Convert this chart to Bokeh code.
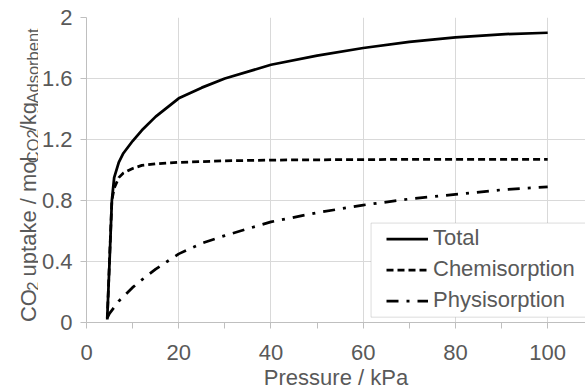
import math
from bokeh.plotting import figure
from bokeh.layouts import row
from bokeh.models import FixedTicker, Legend, LegendItem, BoxAnnotation, Range1d
from bokeh.core.properties import value
from bokeh.embed import file_html
from bokeh.resources import INLINE

# ---------------- data ----------------
pressure = [4.5, 5, 5.5, 6, 7, 8, 10, 12, 15, 20, 25, 30, 40, 50, 60, 70, 80, 90, 100]
total = [0.03, 0.40, 0.80, 0.95, 1.05, 1.11, 1.19, 1.26, 1.35, 1.47, 1.54, 1.60,
         1.69, 1.75, 1.80, 1.84, 1.87, 1.89, 1.90]
chemisorption = [0.02, 0.42, 0.80, 0.88, 0.95, 0.98, 1.01, 1.03, 1.04, 1.05, 1.055, 1.06,
                 1.065, 1.067, 1.068, 1.07, 1.07, 1.07, 1.07]
physisorption = [0.03, 0.06, 0.08, 0.10, 0.14, 0.17, 0.23, 0.28, 0.35, 0.45, 0.52, 0.57,
                 0.66, 0.72, 0.77, 0.81, 0.84, 0.87, 0.89]
series_names = ["Total", "Chemisorption", "Physisorption"]
x_ticks = [0, 20, 40, 60, 80, 100, 120]
x_minor_ticks = [10, 30, 50, 70, 90, 110]
y_ticks = [0, 0.4, 0.8, 1.2, 1.6, 2.0]
y_tick_labels = ["0", "0.4", "0.8", "1.2", "1.6", "2"]
x_label = "Pressure / kPa"
y_label_parts = [("CO", False), ("2", True), (" uptake / mol", False),
                 ("CO2", True), ("/kg", False), ("Adsorbent", True)]

# ---------------- style ----------------
FONT = "Liberation Sans"
TXT = "#595959"
GRID = "#d9d9d9"
AXIS = "#bfbfbf"
MAIN_SIZE = 22
SUB_SIZE = 16.5
H = 392
TOP = 17
BOTTOM = 69
LEFT_W = 38       # width of the y-title strip
P_LEFT = 48       # left border of the main chart (y tick labels)
X_END = 108.2

# ---------------- main chart ----------------
p = figure(width=585 - LEFT_W, height=H, output_backend="svg", toolbar_location=None,
           x_range=Range1d(0, X_END), y_range=Range1d(0, 2),
           min_border_left=P_LEFT, min_border_right=0, min_border_top=TOP,
           min_border_bottom=BOTTOM)
p.outline_line_color = None
p.background_fill_color = "white"

xt = FixedTicker(ticks=x_ticks, minor_ticks=x_minor_ticks)
yt = FixedTicker(ticks=y_ticks)
p.xaxis.ticker = xt
p.yaxis.ticker = yt
p.xgrid.ticker = xt
p.ygrid.ticker = yt
p.xgrid.grid_line_color = GRID
p.ygrid.grid_line_color = GRID

for ax in (p.xaxis, p.yaxis):
    ax.axis_line_color = AXIS
    ax.major_tick_line_color = AXIS
    ax.major_tick_in = 0
    ax.major_tick_out = 6
    ax.major_label_text_font = FONT
    ax.major_label_text_font_size = f"{MAIN_SIZE}px"
    ax.major_label_text_color = TXT
p.xaxis.minor_tick_line_color = AXIS
p.xaxis.minor_tick_in = 0
p.xaxis.minor_tick_out = 6
p.yaxis.minor_tick_line_color = None
p.xaxis.major_label_standoff = 16
p.yaxis.major_label_standoff = 8
p.yaxis.major_label_overrides = dict(zip(y_ticks, y_tick_labels))

p.xaxis.axis_label = x_label
p.xaxis.axis_label_text_font = FONT
p.xaxis.axis_label_text_font_size = f"{MAIN_SIZE}px"
p.xaxis.axis_label_text_font_style = "normal"
p.xaxis.axis_label_text_color = TXT
p.xaxis.axis_label_standoff = 2

r_total = p.line(pressure, total, line_color="black", line_width=2.75, line_join="round")
r_chem = p.line(pressure, chemisorption, line_color="black", line_width=2.75,
                line_dash="7 4", line_join="round")
r_phys = p.line(pressure, physisorption, line_color="black", line_width=2.75,
                line_dash="12 8 3 8", line_join="round")

box = BoxAnnotation(left=61.7, right=150, bottom=0.035, top=0.652,
                    fill_color="white", fill_alpha=1.0,
                    line_color="#8c8c8c", line_width=1)
p.add_layout(box)
legend = Legend(items=[LegendItem(label=n, renderers=[r]) for n, r in
                       zip(series_names, [r_total, r_chem, r_phys])],
                location=(300, 6.5), glyph_width=42, glyph_height=31, spacing=0,
                padding=0, margin=0, label_standoff=5,
                label_text_font=FONT, label_text_font_size=f"{MAIN_SIZE}px",
                label_text_color=TXT, border_line_color=None, background_fill_alpha=0)
p.add_layout(legend)

# ---------------- y-axis title strip (with subscripts) ----------------
# data units = px: x from the left edge, y measured up from the page bottom
q = figure(width=LEFT_W, height=H, output_backend="svg", toolbar_location=None,
           x_range=Range1d(0, LEFT_W), y_range=Range1d(BOTTOM, H),
           x_axis_type=None, y_axis_type=None,
           min_border_left=0, min_border_right=0, min_border_top=0,
           min_border_bottom=BOTTOM)
q.outline_line_color = None
q.grid.visible = False

W = {"C": 722, "O": 778, "2": 556, " ": 278, "u": 556, "p": 556, "t": 278, "a": 556,
     "k": 500, "e": 556, "/": 278, "m": 833, "o": 556, "l": 222, "g": 556, "A": 667,
     "d": 556, "s": 500, "r": 333, "b": 556, "n": 556}
pos = BOTTOM + 0.5
main_parts = dict(x=[], y=[], text=[])
sub_parts = dict(x=[], y=[], text=[])
for txt, sub in y_label_parts:
    size = SUB_SIZE if sub else MAIN_SIZE
    tgt = sub_parts if sub else main_parts
    lead = len(txt) - len(txt.lstrip(" "))          # SVG drops leading spaces
    pos += lead * W[" "] / 1000.0 * size
    body = txt.lstrip(" ")
    tgt["x"].append(32.0 if sub else 27.5)
    tgt["y"].append(pos)
    tgt["text"].append(body)
    pos += sum(W[c] for c in body) / 1000.0 * size
for parts, size in ((main_parts, MAIN_SIZE), (sub_parts, SUB_SIZE)):
    q.text(x=parts["x"], y=parts["y"], text=parts["text"], angle=math.pi / 2,
           text_align="left", text_baseline="alphabetic",
           text_font=value(FONT), text_font_size=value(f"{size}px"), text_color=TXT)

layout = row(q, p, spacing=0)
open("out.html", "w").write(file_html(layout, INLINE))
